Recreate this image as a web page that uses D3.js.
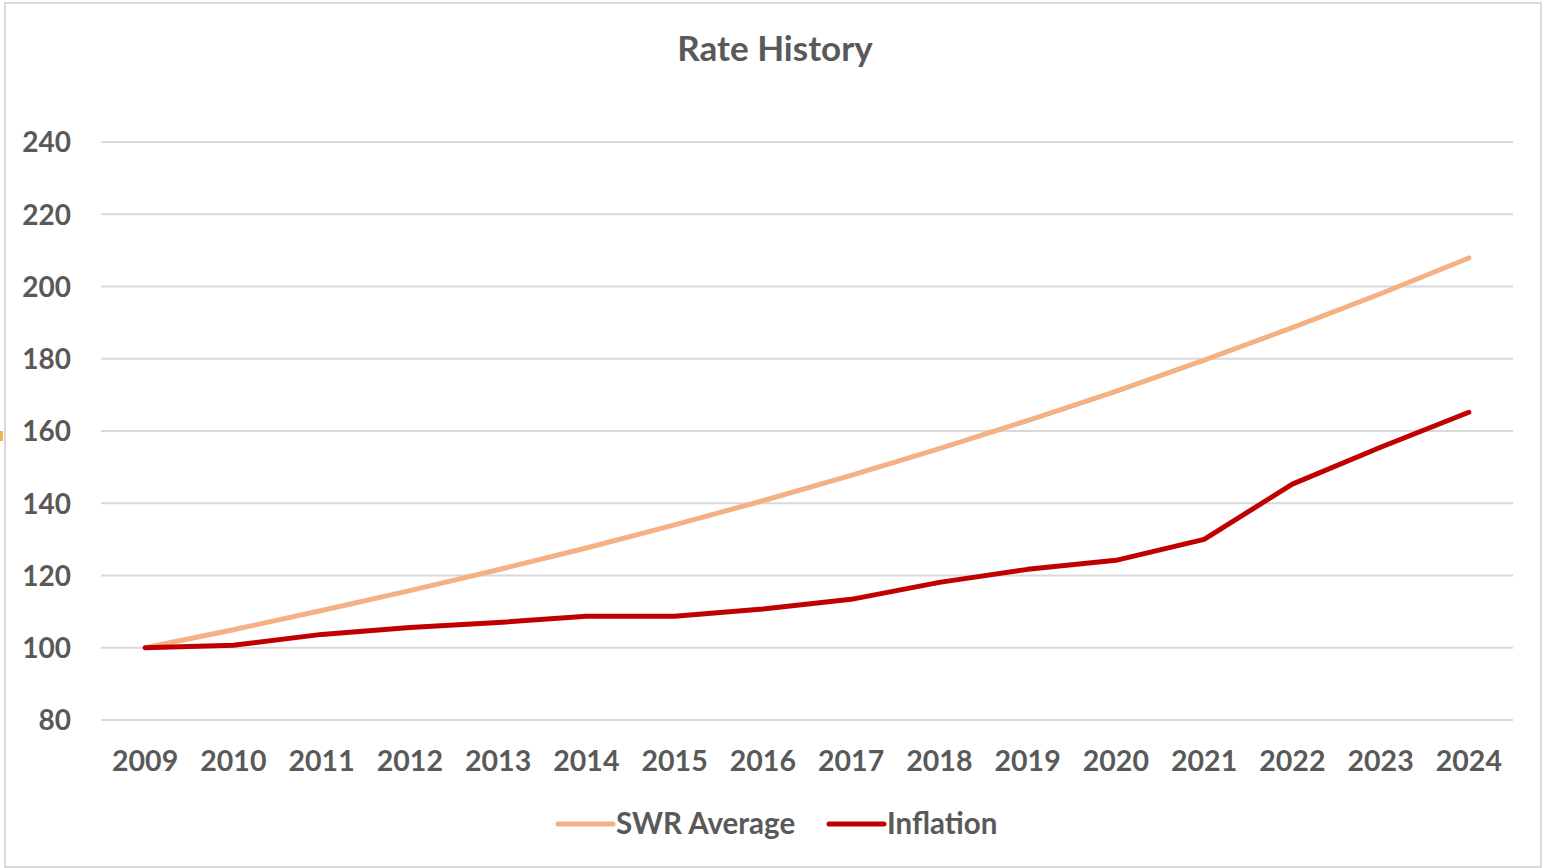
<!DOCTYPE html>
<html>
<head>
<meta charset="utf-8">
<script src="https://cdn.jsdelivr.net/npm/d3@7"></script>
<style>
  html, body { margin: 0; padding: 0; background: #fff; }
  svg { display: block; }
  text { font-family: Lato, "Open Sans", sans-serif; font-weight: bold; fill: #595959; }
</style>
</head>
<body>
<div id="chart"></div>
<script>
// data
const years = ["2009", "2010", "2011", "2012", "2013", "2014", "2015", "2016",
               "2017", "2018", "2019", "2020", "2021", "2022", "2023", "2024"];
const swrAverage = [100, 105, 110.3, 115.8, 121.6, 127.6, 134, 140.7,
                    147.7, 155.1, 162.9, 171, 179.6, 188.6, 198, 207.9];
const inflation = [100, 100.7, 103.7, 105.6, 107, 108.7, 108.7, 110.7,
                   113.4, 118.1, 121.7, 124.2, 130, 145.3, 155.5, 165.2];
const yTicks = [80, 100, 120, 140, 160, 180, 200, 220, 240];
const seriesNames = ["SWR Average", "Inflation"];

const width = 1542, height = 868;
const plot = { left: 101, right: 1513, top: 142, bottom: 720 };
const colors = { "SWR Average": "#F4B183", "Inflation": "#C00000" };

const svg = d3.select("#chart").append("svg")
    .attr("width", width)
    .attr("height", height);

// chart frame
svg.append("rect")
    .attr("x", 5).attr("y", 3)
    .attr("width", 1536).attr("height", 864)
    .attr("fill", "#fff")
    .attr("stroke", "#D9D9D9")
    .attr("stroke-width", 2);

// little selection handle on the left edge
svg.append("rect")
    .attr("x", 0).attr("y", 431)
    .attr("width", 3).attr("height", 10)
    .attr("fill", "#F4B350");

// title
svg.append("text")
    .attr("x", 775).attr("y", 61)
    .attr("text-anchor", "middle")
    .style("font-size", "35px")
    .text("Rate History");

const x = d3.scaleBand()
    .domain(years)
    .range([plot.left, plot.right]);

const y = d3.scaleLinear()
    .domain([80, 240])
    .range([plot.bottom, plot.top]);

// gridlines
svg.append("g")
    .selectAll("line")
    .data(yTicks)
    .enter()
    .append("line")
    .attr("x1", plot.left).attr("x2", plot.right)
    .attr("y1", d => y(d)).attr("y2", d => y(d))
    .attr("stroke", "#D9D9D9")
    .attr("stroke-width", 2);

// y axis labels
const yAxis = svg.append("g")
    .attr("transform", `translate(${plot.left - 30},0)`)
    .call(d3.axisLeft(y).tickValues(yTicks).tickSize(0).tickPadding(0));
yAxis.select(".domain").remove();
yAxis.selectAll("text")
    .attr("dy", "0.35em")
    .style("font-size", "28px")
    .style("font-family", null)
    .attr("fill", "#595959");

// x axis labels
const xAxis = svg.append("g")
    .attr("transform", `translate(0,${plot.bottom})`)
    .call(d3.axisBottom(x).tickSize(0).tickPadding(31));
xAxis.select(".domain").remove();
xAxis.selectAll("text")
    .style("font-size", "28.5px")
    .style("font-family", null)
    .attr("fill", "#595959");

// lines
const line = d3.line()
    .x((d, i) => x(years[i]) + x.bandwidth() / 2)
    .y(d => y(d));

[["SWR Average", swrAverage], ["Inflation", inflation]].forEach(([name, values]) => {
    svg.append("path")
        .datum(values)
        .attr("fill", "none")
        .attr("stroke", colors[name])
        .attr("stroke-width", 5)
        .attr("stroke-linecap", "round")
        .attr("stroke-linejoin", "round")
        .attr("d", line);
});

// legend
const legendPos = [558, 829];
const legend = svg.append("g")
    .selectAll("g")
    .data(seriesNames)
    .enter()
    .append("g")
    .attr("transform", (d, i) => `translate(${legendPos[i]},824)`);

legend.append("line")
    .attr("x1", 0).attr("x2", 55)
    .attr("stroke", d => colors[d])
    .attr("stroke-width", 5)
    .attr("stroke-linecap", "round");

legend.append("text")
    .attr("x", 58)
    .attr("dy", "0.35em")
    .style("font-size", "29.5px")
    .text(d => d);
</script>
</body>
</html>
